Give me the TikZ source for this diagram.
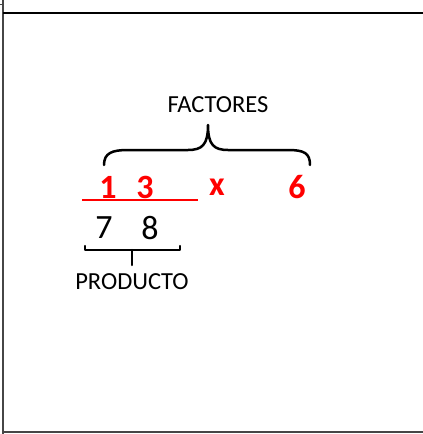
\documentclass[tikz,border=0pt]{standalone}
\usepackage{fontspec}
\setmainfont{Carlito}
\usetikzlibrary{positioning}
\definecolor{rojo}{RGB}{255,0,0}
\definecolor{borde}{RGB}{70,70,70}
\tikzset{
  cifra/.style={font=\fontsize{34}{36}\selectfont\bfseries, text=rojo, inner sep=0pt},
  resultado/.style={font=\fontsize{34}{36}\selectfont, inner sep=0pt},
  rotulo/.style={font=\fontsize{24.5}{26}\selectfont, inner sep=0pt},
  llave/.style={line width=2.5pt, line cap=round, line join=round},
}
\begin{document}
\begin{tikzpicture}[x=1pt, y=-1pt]
                \useasboundingbox (0,0) rectangle (423,434);
                % marco
                \draw[borde, line width=1.5pt] (3,0) -- (3,434);
                \draw[borde, line width=1pt] (0,4) -- (3,4);
                \draw[line width=1.5pt] (3,13) -- (423,13);
                \draw[borde, line width=1.2pt] (3,432) -- (423,432);

                \node[rotulo] (factores) at (218,105) {FACTORES};
                \node[cifra] (uno) at (108,187) {1};
                \node[cifra] (tres) at (145,187) {3};
                \node[cifra] (por) at (217,187) {x};
                \node[cifra] (seis) at (297,187) {6};
                \node[resultado] (siete) at (104,228) {7};
                \node[resultado] (ocho) at (150,228) {8};
                \node[rotulo] (producto) at (132,282) {PRODUCTO};

                % llave de los factores
                \draw[llave] (104,165) .. controls (104,153) and (112,150) .. (128,150) -- (188,150)
                    .. controls (202,150) and (208,145) .. (208,125)
                    .. controls (208,145) and (214,150) .. (228,150) -- (288,150)
                    .. controls (304,150) and (310,153) .. (310,165);
                % raya roja
                \draw[rojo, line width=2pt] (82,200) -- (198,200);
                % llave del producto
                \draw[llave] (85,246) -- (85,250) -- (180,250) -- (180,246);
                \draw[llave] (132,250) -- (132,265);
            \end{tikzpicture}
\end{document}
